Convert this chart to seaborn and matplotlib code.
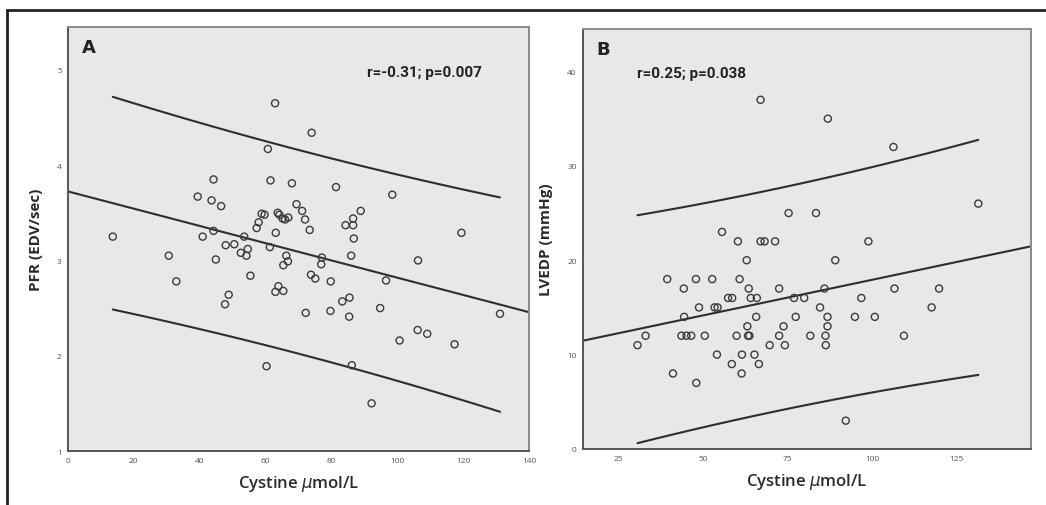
import numpy as np
import matplotlib
matplotlib.use("Agg")
import matplotlib.pyplot as plt
from matplotlib.lines import Line2D
import seaborn as sns

# Panel A: cystine vs PFR
cys_a = [13.6, 30.6, 32.9, 39.4, 40.9, 43.6, 44.2, 44.2, 44.9, 46.5, 47.9, 47.7, 48.8,
         50.5, 52.5, 53.5, 54.2, 54.6, 55.4, 57.3, 57.9, 58.8, 59.7, 60.3, 60.7, 61.3,
         61.5, 62.9, 63.1, 63.0, 63.7, 63.9, 64.2, 65.2, 65.4, 65.4, 65.9, 66.3, 66.8,
         66.9, 68.0, 69.4, 71.1, 72.0, 72.2, 73.4, 74.0, 73.8, 75.1, 76.9, 77.1, 79.8,
         79.7, 81.4, 83.3, 84.3, 85.5, 85.4, 86.0, 86.6, 86.6, 86.8, 86.2, 88.9, 92.2,
         94.8, 96.6, 98.5, 100.7, 106.2, 106.3, 109.1, 117.4, 119.5, 131.2]
pfr = [3.25, 3.05, 2.78, 3.67, 3.25, 3.63, 3.85, 3.31, 3.01, 3.57, 3.16, 2.54, 2.64,
       3.17, 3.08, 3.25, 3.05, 3.12, 2.84, 3.34, 3.40, 3.49, 3.48, 1.89, 4.17, 3.14,
       3.84, 4.65, 3.29, 2.67, 3.50, 2.73, 3.48, 3.44, 2.68, 2.95, 3.43, 3.05, 2.99,
       3.45, 3.81, 3.59, 3.52, 3.43, 2.45, 3.32, 4.34, 2.85, 2.81, 2.96, 3.03, 2.78,
       2.47, 3.77, 2.57, 3.37, 2.61, 2.41, 3.05, 3.44, 3.37, 3.23, 1.90, 3.52, 1.50,
       2.50, 2.79, 3.69, 2.16, 2.27, 3.00, 2.23, 2.12, 3.29, 2.44]

# Panel B: cystine vs LVEDP
cys_b = [30.6, 33.0, 39.4, 41.1, 43.6, 44.3, 44.4, 45.1, 46.5, 47.9, 48.0, 48.8, 50.5,
         52.7, 53.4, 54.3, 54.1, 55.6, 57.4, 58.6, 58.5, 59.9, 60.3, 60.8, 61.5, 61.4,
         62.9, 63.1, 63.3, 63.7, 63.5, 64.1, 65.2, 65.7, 65.9, 66.5, 67.0, 67.0, 68.2,
         69.7, 71.3, 72.5, 72.5, 73.8, 74.2, 75.3, 76.9, 77.4, 79.9, 81.7, 83.4, 84.6,
         85.9, 86.2, 86.3, 86.8, 86.8, 86.9, 89.1, 92.2, 94.9, 96.8, 98.9, 100.8, 106.3,
         106.6, 109.4, 117.6, 119.8, 131.4]
lvedp = [11, 12, 18, 8, 12, 17, 14, 12, 12, 18, 7, 15, 12,
         18, 15, 15, 10, 23, 16, 16, 9, 12, 22, 18, 10, 8,
         20, 13, 12, 12, 17, 16, 10, 14, 16, 9, 22, 37, 22,
         11, 22, 12, 17, 13, 11, 25, 16, 14, 16, 12, 25, 15,
         17, 12, 11, 14, 13, 35, 20, 3, 14, 16, 22, 14, 32,
         17, 12, 15, 17, 26]

stats_a = "r=-0.31; p=0.007"
stats_b = "r=0.25; p=0.038"


def fit_lines(x, y, xfull):
    # OLS fit plus 95% prediction interval (as in the SPSS chart)
    x = np.asarray(x, float)
    y = np.asarray(y, float)
    n = len(x)
    b1, b0 = np.polyfit(x, y, 1)
    resid = y - (b0 + b1 * x)
    s = np.sqrt(np.sum(resid ** 2) / (n - 2))
    xs = np.linspace(x.min(), x.max(), 100)
    se = s * np.sqrt(1 + 1 / n + (xs - x.mean()) ** 2 / np.sum((x - x.mean()) ** 2))
    t = 1.99
    mid = b0 + b1 * xs
    return xfull, b0 + b1 * np.asarray(xfull), xs, mid + t * se, mid - t * se


sns.set_style("white")
plt.rcParams["font.family"] = ["Open Sans", "DejaVu Sans"]

fig = plt.figure(figsize=(10.46, 5.06), dpi=100)
ax_a = fig.add_axes([0.065, 0.1067, 0.4407, 0.838])
ax_b = fig.add_axes([0.5574, 0.1107, 0.4283, 0.830])

panels = [
    (ax_a, cys_a, pfr, "A", stats_a, (0, 140), (1, 5.45), [0, 20, 40, 60, 80, 100, 120, 140],
     [1, 2, 3, 4, 5], "PFR (EDV/sec)", (0.648, 0.895)),
    (ax_b, cys_b, lvedp, "B", stats_b, (14.5, 147), (0, 44.5), [25, 50, 75, 100, 125],
     [0, 10, 20, 30, 40], "LVEDP (mmHg)", (0.12, 0.895)),
]

for ax, x, y, tag, stxt, xl, yl, xt, yt, ylab, tpos in panels:
    ax.set_facecolor("#e8e8e8")
    sns.scatterplot(x=x, y=y, ax=ax, marker="o", s=26, facecolors="none",
                    edgecolors="#3c3c3c", linewidth=1.0, zorder=3)
    xf, yf, xs, up, lo = fit_lines(x, y, xl)
    ax.plot(xf, yf, color="#2e2e2e", lw=1.5, zorder=2)
    ax.plot(xs, up, color="#2e2e2e", lw=1.5, zorder=2)
    ax.plot(xs, lo, color="#2e2e2e", lw=1.5, zorder=2)
    ax.set_xlim(*xl)
    ax.set_ylim(*yl)
    ax.set_xticks(xt)
    ax.set_yticks(yt)
    ax.tick_params(axis="both", direction="out", length=3, width=1, color="#555555",
                   labelsize=6, labelcolor="#555555", pad=1.5)
    for side, sp in ax.spines.items():
        sp.set_visible(True)
        sp.set_color("#555555" if side in ("left", "bottom") else "#8a8a8a")
        sp.set_linewidth(1.4)
    ax.set_xlabel("Cystine $\\mu$mol/L", fontsize=12, fontweight="semibold",
                  color="#2a2a2a", labelpad=6)
    ax.set_ylabel(ylab, fontsize=11, fontweight="bold", color="#2a2a2a", labelpad=10)
    ax.text(0.03, 0.975, tag, transform=ax.transAxes, fontsize=13, fontweight="bold",
            va="top", ha="left", color="#222222", family=["DejaVu Sans"])
    ax.text(tpos[0], tpos[1], stxt, transform=ax.transAxes, fontsize=11,
            fontweight="bold", va="center", ha="left", color="#222222",
            family=["Liberation Sans Narrow", "Roboto", "DejaVu Sans"])

# outer frame lines (top and left)
fig.add_artist(Line2D([0.0067, 1.0], [0.978, 0.978], transform=fig.transFigure,
                      color="#222222", lw=2))
fig.add_artist(Line2D([0.0067, 0.0067], [0.0, 0.978], transform=fig.transFigure,
                      color="#222222", lw=2))

fig.savefig("out.png", dpi=100)
